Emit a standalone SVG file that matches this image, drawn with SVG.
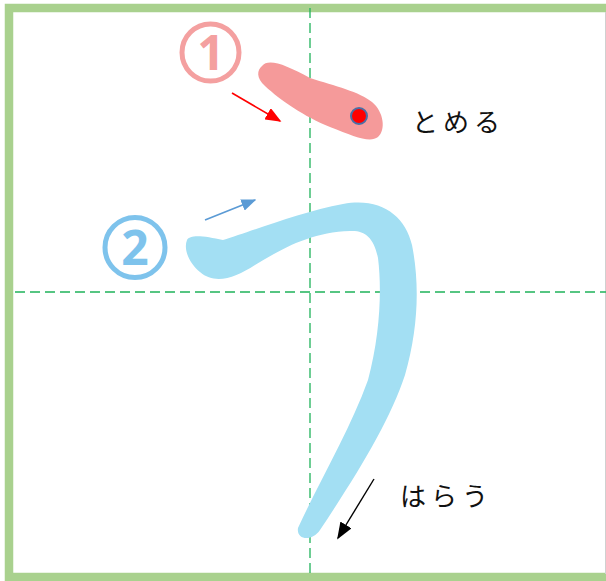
<svg xmlns="http://www.w3.org/2000/svg" width="606" height="581" viewBox="0 0 606 581">
<defs>
<style>
.guide{stroke:#1fb35a;stroke-width:1.3;stroke-dasharray:10 5;fill:none}
.kana{font-family:"Noto Sans CJK JP","Noto Sans",sans-serif;font-size:26px;fill:#111;letter-spacing:5px}
.num{font-family:"Open Sans","Noto Sans",sans-serif;font-weight:700;font-size:48px;text-anchor:middle}
</style>
<marker id="ahRed" viewBox="0 0 10 10" refX="9" refY="5" markerWidth="16" markerHeight="13" orient="auto" markerUnits="userSpaceOnUse" preserveAspectRatio="none"><path d="M0,0 L10,5 L0,10 Z" fill="#ff0000"/></marker>
<marker id="ahBlue" viewBox="0 0 10 10" refX="9" refY="5" markerWidth="15" markerHeight="12" orient="auto" markerUnits="userSpaceOnUse" preserveAspectRatio="none"><path d="M0,0 L10,5 L0,10 Z" fill="#5b9bd5"/></marker>
<marker id="ahBlack" viewBox="0 0 10 10" refX="9" refY="5" markerWidth="17" markerHeight="13" orient="auto" markerUnits="userSpaceOnUse" preserveAspectRatio="none"><path d="M0,0 L10,5 L0,10 Z" fill="#000"/></marker>
</defs>
<rect width="606" height="581" fill="#fff"/>
<rect x="9" y="8" width="602" height="569" fill="none" stroke="#a9d18e" stroke-width="8.5"/>
<line x1="605.5" y1="12" x2="605.5" y2="574" stroke="#d0d0d0" stroke-width="1"/>
<g id="guides">
<line class="guide" x1="15" y1="292" x2="606" y2="292"/>
<line class="guide" x1="310" y1="8" x2="310" y2="578"/>
</g>
<g id="stroke2">
<path d="M187,240 C190,234 205,236 223,240 C250,232 300,212 343,204 C380,197 405,215 412,245 C420,285 418,330 405,375 C390,420 360,470 320,530 C312,542 296,540 298,528 C320,480 350,430 368,380 C380,335 382,290 378,258 C374,238 365,230 350,231 C310,232 280,250 255,265 C235,278 215,285 200,272 C190,264 183,250 187,240 Z" fill="#a3dff3"/>
</g>
<g id="stroke1">
<path d="M262,66 C268,58 285,64 310,78 C335,86 360,92 372,102 C384,112 386,130 378,137 C370,143 355,137 330,127 C305,117 280,100 265,86 C256,78 257,70 262,66 Z" fill="#f59a9a"/>
<circle cx="359" cy="116" r="8" fill="#ff0000" stroke="#4a6fa5" stroke-width="2"/>
</g>
<g id="label1">
<circle cx="210.5" cy="52.5" r="28.5" fill="none" stroke="#f4a0a0" stroke-width="5"/>
<text class="num" x="211" y="70" fill="#f4a0a0">1</text>
</g>
<g id="label2">
<circle cx="135" cy="247.5" r="30" fill="none" stroke="#7ec3ec" stroke-width="5"/>
<text class="num" x="135" y="265" fill="#7ec3ec">2</text>
</g>
<g id="connectors">
<line x1="232" y1="93" x2="280" y2="121" stroke="#ff0000" stroke-width="1.6" marker-end="url(#ahRed)"/>
<line x1="205" y1="220" x2="255" y2="200" stroke="#5b9bd5" stroke-width="1.6" marker-end="url(#ahBlue)"/>
<line x1="374" y1="479" x2="338" y2="538" stroke="#000" stroke-width="1.4" marker-end="url(#ahBlack)"/>
</g>
<g id="text-tomeru"><text class="kana" x="412" y="132">とめる</text></g>
<g id="text-harau"><text class="kana" x="400" y="506">はらう</text></g>
</svg>
